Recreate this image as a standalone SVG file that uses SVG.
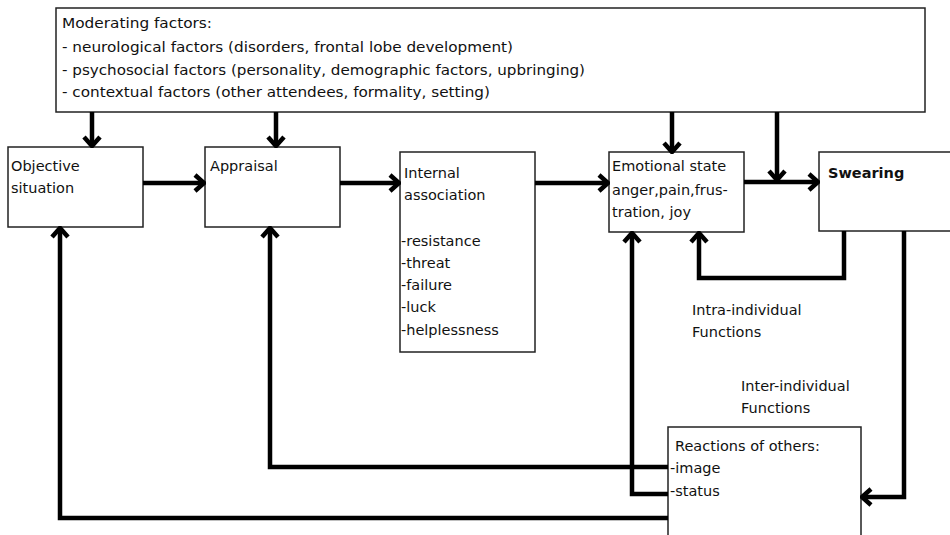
<svg xmlns="http://www.w3.org/2000/svg" width="950" height="535" viewBox="0 0 950 535">
<defs>
<style>
.box{fill:#fff;stroke:#222;stroke-width:1.5}
.t{font-family:"DejaVu Sans","Liberation Sans",Arial,sans-serif;font-size:14.5px;fill:#111}
.b{font-weight:bold}
.c{fill:none;stroke:#000;stroke-width:4.5;stroke-linejoin:miter}
</style>
<marker id="ah" markerUnits="userSpaceOnUse" viewBox="-12 -12 14 24" markerWidth="14" markerHeight="24" refX="0" refY="0" orient="auto">
<path d="M-9,-8 L0,0 L-9,8" fill="none" stroke="#000" stroke-width="4.5"/>
</marker>
</defs>
<rect width="950" height="535" fill="#fff"/>
<g id="moderating">
<rect class="box" x="56" y="8" width="869" height="104"/>
<text class="t" x="62" y="28" textLength="150" lengthAdjust="spacingAndGlyphs">Moderating factors:</text>
<text class="t" x="62" y="52" textLength="451" lengthAdjust="spacingAndGlyphs">- neurological factors (disorders, frontal lobe development)</text>
<text class="t" x="62" y="75" textLength="523" lengthAdjust="spacingAndGlyphs">- psychosocial factors (personality, demographic factors, upbringing)</text>
<text class="t" x="62" y="97" textLength="428" lengthAdjust="spacingAndGlyphs">- contextual factors (other attendees, formality, setting)</text>
</g>
<g id="objective">
<rect class="box" x="8" y="147" width="135" height="80"/>
<text class="t" x="11" y="171">Objective</text>
<text class="t" x="11" y="193">situation</text>
</g>
<g id="appraisal">
<rect class="box" x="205" y="147" width="135" height="80"/>
<text class="t" x="210" y="171">Appraisal</text>
</g>
<g id="internal">
<rect class="box" x="400" y="152" width="135" height="200"/>
<text class="t" x="404" y="178">Internal</text>
<text class="t" x="404" y="200">association</text>
<text class="t" x="401" y="246">-resistance</text>
<text class="t" x="401" y="268">-threat</text>
<text class="t" x="401" y="290">-failure</text>
<text class="t" x="401" y="312">-luck</text>
<text class="t" x="401" y="335">-helplessness</text>
</g>
<g id="emotional">
<rect class="box" x="609" y="152" width="135" height="80"/>
<text class="t" x="612" y="171">Emotional state</text>
<text class="t" x="612" y="195">anger,pain,frus-</text>
<text class="t" x="612" y="217">tration, joy</text>
</g>
<g id="swearing">
<rect class="box" x="819" y="152" width="140" height="79"/>
<text class="t b" x="828" y="178">Swearing</text>
</g>
<g id="reactions">
<rect class="box" x="668" y="427" width="193" height="115"/>
<text class="t" x="675" y="451">Reactions of others:</text>
<text class="t" x="670" y="473">-image</text>
<text class="t" x="670" y="496">-status</text>
</g>
<g id="labels">
<text class="t" x="692" y="315">Intra-individual</text>
<text class="t" x="692" y="337">Functions</text>
<text class="t" x="741" y="391">Inter-individual</text>
<text class="t" x="741" y="413">Functions</text>
</g>
<g id="connectors">
<path class="c" d="M92,112 V146" marker-end="url(#ah)"/>
<path class="c" d="M276,112 V146" marker-end="url(#ah)"/>
<path class="c" d="M672,112 V152" marker-end="url(#ah)"/>
<path class="c" d="M777,112 V180" marker-end="url(#ah)"/>
<path class="c" d="M143,183 H204" marker-end="url(#ah)"/>
<path class="c" d="M340,183 H399" marker-end="url(#ah)"/>
<path class="c" d="M535,183 H608" marker-end="url(#ah)"/>
<path class="c" d="M744,182 H818" marker-end="url(#ah)"/>
<path class="c" d="M844,231 V278 H699 V233" marker-end="url(#ah)"/>
<path class="c" d="M904,231 V497 H862" marker-end="url(#ah)"/>
<path class="c" d="M668,494 H632 V233" marker-end="url(#ah)"/>
<path class="c" d="M668,467 H270 V228" marker-end="url(#ah)"/>
<path class="c" d="M668,518 H60 V228" marker-end="url(#ah)"/>
</g>
</svg>
